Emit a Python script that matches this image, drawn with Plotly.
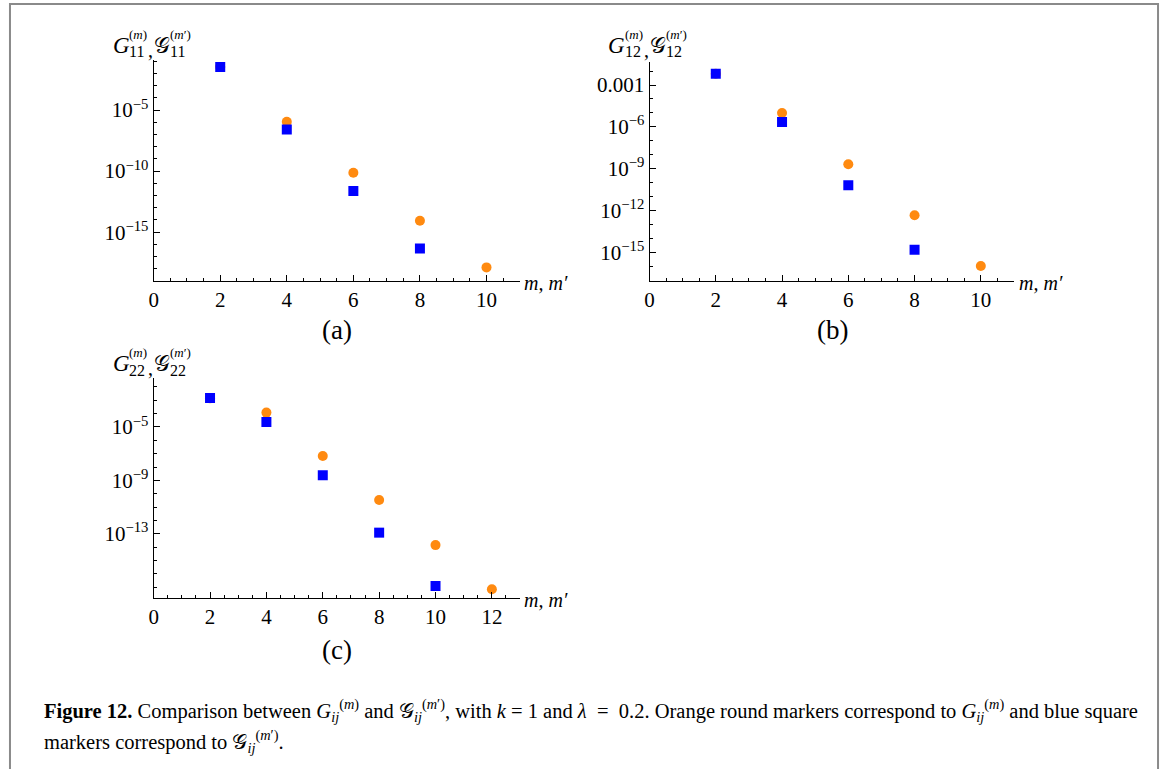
import plotly.graph_objects as go

W, H = 1165, 769

# ---- data -------------------------------------------------------------
# panel (a): G11 (orange, round) and script-G11 (blue, square)
m_a_orange = [2, 4, 6, 8, 10]
g11_orange = [3.3e-2, 1.1e-6, 7.4e-11, 8.5e-15, 1.3e-18]
m_a_blue = [2, 4, 6, 8]
g11_blue = [3.3e-2, 2.5e-7, 2.3e-12, 4.6e-17]

# panel (b): G12
m_b_orange = [2, 4, 6, 8, 10]
g12_orange = [6.5e-3, 1.0e-5, 2.1e-9, 4.7e-13, 1.1e-16]
m_b_blue = [2, 4, 6, 8]
g12_blue = [6.5e-3, 2.3e-6, 6.8e-11, 1.6e-15]

# panel (c): G22
m_c_orange = [2, 4, 6, 8, 10, 12]
g22_orange = [1.4e-3, 1.2e-4, 6.6e-8, 3.4e-11, 1.4e-14, 6.8e-18]
m_c_blue = [2, 4, 6, 8, 10]
g22_blue = [1.5e-3, 2.4e-5, 2.4e-9, 1.2e-13, 1.2e-17]

x_ticks_ab = [0, 2, 4, 6, 8, 10]
x_ticks_c = [0, 2, 4, 6, 8, 10, 12]
y_ticks_a = [1e-5, 1e-10, 1e-15]
y_text_a = ["10<sup>−5</sup>", "10<sup>−10</sup>", "10<sup>−15</sup>"]
y_ticks_b = [1e-3, 1e-6, 1e-9, 1e-12, 1e-15]
y_text_b = ["0.001", "10<sup>−6</sup>", "10<sup>−9</sup>", "10<sup>−12</sup>", "10<sup>−15</sup>"]
y_ticks_c = [1e-5, 1e-9, 1e-13]
y_text_c = ["10<sup>−5</sup>", "10<sup>−9</sup>", "10<sup>−13</sup>"]

ORANGE = "#FF8A10"
BLUE = "#0000FF"
SERIF = "'Liberation Serif', 'Times New Roman', serif"


def px(x):
    return x / W


def py(y):
    return 1 - y / H


fig = go.Figure()

panels = [
    ("", m_a_orange, g11_orange, m_a_blue, g11_blue),
    ("2", m_b_orange, g12_orange, m_b_blue, g12_blue),
    ("3", m_c_orange, g22_orange, m_c_blue, g22_blue),
]
for suf, mo, go_, mb, gb in panels:
    fig.add_trace(go.Scatter(x=mo, y=go_, mode="markers", xaxis="x" + suf, yaxis="y" + suf,
                             marker=dict(symbol="circle", size=10, color=ORANGE, line=dict(width=0)),
                             showlegend=False, hoverinfo="skip"))
    fig.add_trace(go.Scatter(x=mb, y=gb, mode="markers", xaxis="x" + suf, yaxis="y" + suf,
                             marker=dict(symbol="square", size=10, color=BLUE, line=dict(width=0)),
                             showlegend=False, hoverinfo="skip"))


def xaxis(dom, rng, ticks, anchor):
    return dict(domain=dom, range=rng, anchor=anchor, tickvals=ticks,
                ticktext=[str(t) for t in ticks],
                showline=True, linecolor="black", linewidth=1, mirror=False,
                showgrid=False, zeroline=False, ticks="inside", ticklen=6,
                tickcolor="black", tickwidth=1,
                tickfont=dict(family=SERIF, size=21, color="black"),
                minor=dict(tickvals=[v / 2 for v in range(0, int(rng[1] * 2) + 1)],
                           ticks="inside", ticklen=3, tickcolor="black", tickwidth=1,
                           showgrid=False),
                fixedrange=True)


def yaxis(dom, rng, ticks, text, anchor):
    lo, hi = int(rng[0]) - 1, int(rng[1]) + 1
    return dict(domain=dom, range=rng, type="log", anchor=anchor,
                tickvals=ticks, ticktext=text,
                showline=True, linecolor="black", linewidth=1, mirror=False,
                showgrid=False, zeroline=False, ticks="inside", ticklen=6,
                tickcolor="black", tickwidth=1,
                tickfont=dict(family=SERIF, size=21, color="black"),
                minor=dict(tickvals=[10.0 ** k for k in range(lo, hi + 1)],
                           ticks="inside", ticklen=3, tickcolor="black", tickwidth=1,
                           showgrid=False),
                fixedrange=True)


fig.update_layout(
    width=W, height=H,
    margin=dict(l=0, r=0, t=0, b=0),
    paper_bgcolor="white", plot_bgcolor="white",
    xaxis=xaxis([px(149.3), px(517)], [0, 11], x_ticks_ab, "y"),
    yaxis=yaxis([py(281), py(60)], [-19.0, -0.9], y_ticks_a, y_text_a, "x"),
    xaxis2=xaxis([px(647.3), px(1013.3)], [0, 11], x_ticks_ab, "y2"),
    yaxis2=yaxis([py(281), py(61.7)], [-17.03, -1.33], y_ticks_b, y_text_b, "x2"),
    xaxis3=xaxis([px(149.3), px(517.3)], [0, 13], x_ticks_c, "y3"),
    yaxis3=yaxis([py(598), py(378.3)], [-17.82, -1.35], y_ticks_c, y_text_c, "x3"),
)

ann = []


def text(x, y, s, size, xanchor="left", yanchor="middle", family=SERIF):
    ann.append(dict(x=px(x), y=py(y), xref="paper", yref="paper", text=s, showarrow=False,
                    xanchor=xanchor, yanchor=yanchor, borderpad=0,
                    font=dict(family=family, size=size, color="black")))


def sym_label(x, y, idx):
    # G_idx^(m) , script-G_idx^(m') with stacked indices
    text(x, y, "<i>G</i>", 23)
    text(x + 17, y - 12, "(<i>m</i>)", 13)
    text(x + 17, y + 6, idx, 16)
    text(x + 36, y + 4, ",", 20)
    text(x + 42, y, "𝒢", 22)
    text(x + 58, y - 12, "(<i>m</i>′)", 13)
    text(x + 58, y + 6, idx, 16)


sym_label(107, 46, "11")
sym_label(605, 46, "12")
sym_label(107, 364, "22")

for x0, y0 in [(520, 283), (1017, 283), (520, 600)]:
    text(x0, y0, "<i>m, m′</i>", 20)

text(333, 330, "(a)", 27, xanchor="center")
text(831, 330, "(b)", 27, xanchor="center")
text(333, 650, "(c)", 27, xanchor="center")

GIJ = "<i>G</i><sub><i>ij</i></sub><sup>(<i>m</i>)</sup>"
SGIJ = "𝒢<sub><i>ij</i></sub><sup>(<i>m</i>′)</sup>"
line1 = ("<b>Figure 12.</b> Comparison between " + GIJ + " and " + SGIJ +
         ", with <i>k</i> = 1 and <i>λ</i>  =  0.2. Orange round markers correspond to " + GIJ +
         " and blue square")
line2 = "markers correspond to " + SGIJ + "."
text(38, 710, line1, 20.5)
text(38, 741, line2, 20.5)

fig.update_layout(annotations=ann)

# outer frame
fig.add_shape(type="rect", xref="paper", yref="paper",
              x0=px(5), x1=px(1158), y0=py(790), y1=py(4),
              line=dict(color="#8a8a8a", width=2), fillcolor="rgba(0,0,0,0)")

fig.write_html("out.html", config=dict(displayModeBar=False))
